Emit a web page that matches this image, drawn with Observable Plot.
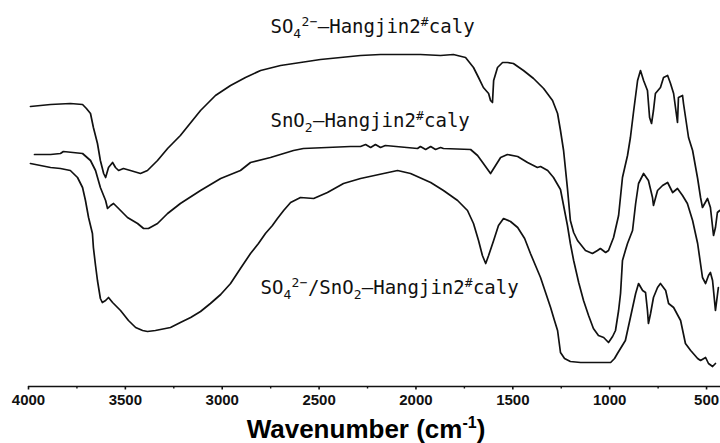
<!DOCTYPE html>
<html>
<head>
<meta charset="utf-8">
<script src="https://cdn.jsdelivr.net/npm/d3@7"></script>
<script src="https://cdn.jsdelivr.net/npm/@observablehq/plot@0.6"></script>
<style>
html, body { margin: 0; padding: 0; background: #fff; overflow: hidden; width: 720px; height: 443px; }
#chart { position: absolute; left: 0; top: 0; }
#title { position: absolute; left: 0; top: 416px; width: 732px; text-align: center;
  font-family: "Liberation Sans", Arial, sans-serif; font-weight: bold; font-size: 26px; line-height: 26px; color: #000; }
#title span { font-size: 16px; position: relative; top: -10px; }
</style>
</head>
<body>
<div id="chart"></div>
<div id="title">Wavenumber (cm<span>-1</span>)</div>
<script>
// Series 1: SO4(2-)-Hangjin2# caly  (wavenumber cm-1, transmittance a.u.)
const wnSO4 = [3990,3886,3784,3721,3701,3680,3665,3644,3629,3612,3602,3587,3566,3551,3535,3510,3474,3422,3386,3334,3282,3216,3112,3035,2957,2880,2802,2699,2596,2493,2389,2286,2183,1977,1873,1807,1744,1703,1677,1652,1625,1615,1605,1599,1579,1553,1528,1497,1445,1393,1341,1295,1269,1254,1238,1218,1203,1186,1166,1125,1089,1063,1048,1021,1006,980,954,934,908,893,876,856,841,825,805,794,784,774,764,738,722,701,686,670,650,645,624,619,593,572,546,531,521,495,480,464,454,444,432];
const tSO4  = [280,282,283,282,278,273,259,243,226,213,209,219,224,219,216,218,216,213,216,226,238,251,276,291,301,309,316,321,324,327,329,331,332,332,331,332,329,319,309,299,293,286,284,306,319,324,324,323,316,308,298,286,273,256,236,198,166,154,146,136,133,136,138,134,136,149,171,209,231,249,276,306,316,306,296,269,263,276,293,299,309,311,303,293,264,289,291,283,249,236,208,189,179,188,179,151,159,174,176];

// Series 2: SnO2-Hangjin2# caly
const wnSnO2 = [3969,3886,3835,3820,3721,3680,3654,3629,3602,3592,3576,3561,3535,3489,3437,3406,3381,3334,3282,3216,3112,3008,2906,2854,2751,2632,2581,2338,2286,2260,2234,2209,2183,2158,1992,1977,1950,1924,1899,1873,1858,1718,1682,1652,1615,1589,1563,1528,1475,1424,1373,1357,1320,1290,1254,1238,1218,1203,1186,1160,1135,1109,1084,1058,1031,1006,985,970,954,944,934,919,908,882,866,851,825,800,779,774,753,727,701,675,650,624,599,572,546,521,505,490,480,469,454,439];
const tSnO2  = [232,232,233,235,233,226,216,199,186,178,181,183,178,169,163,158,158,163,173,183,196,208,216,224,229,236,238,240,240,242,239,242,239,241,238,240,237,240,237,239,238,237,231,223,213,221,229,232,230,224,219,220,216,209,197,181,161,143,126,104,86,71,58,51,49,44,50,56,76,93,126,136,143,156,183,203,213,206,189,181,196,201,204,194,198,191,183,166,143,109,103,111,114,106,76,99];

// Series 3: SO4(2-)/SnO2-Hangjin2# caly
const wnMix = [3990,3938,3886,3835,3784,3747,3721,3706,3690,3670,3665,3654,3644,3629,3619,3602,3587,3566,3525,3484,3447,3411,3386,3345,3267,3216,3163,3112,3061,3008,2957,2906,2854,2813,2777,2741,2715,2683,2647,2596,2528,2457,2374,2286,2167,2095,2028,1924,1858,1785,1734,1703,1677,1657,1640,1625,1599,1574,1548,1512,1475,1439,1409,1383,1357,1331,1305,1285,1269,1254,1233,1203,1150,1073,995,975,960,919,893,866,851,830,815,805,800,789,774,753,738,711,696,670,634,609,582,546,531,505,490,469,454];
const tMix  = [223,221,219,218,216,209,199,186,169,153,139,121,106,88,84,86,89,84,76,66,59,56,55,56,59,64,69,75,83,92,103,118,133,143,153,161,168,176,184,189,188,194,203,208,213,216,213,204,196,186,176,163,146,131,123,131,146,161,168,165,159,148,133,121,109,94,79,66,56,34,28,25,24,24,24,28,33,46,69,93,103,96,94,76,63,73,89,99,103,96,83,79,66,43,36,28,26,29,23,20,23];

const seriesNames = ["SO4-Hangjin", "SnO2-Hangjin", "SO4/SnO2-Hangjin"];
const seriesWn = [wnSO4, wnSnO2, wnMix];
const seriesT = [tSO4, tSnO2, tMix];

// Curve labels
const labelText = ["SO₄²⁻—Hangjin2#caly", "SnO₂—Hangjin2#caly", "SO₄²⁻/SnO₂—Hangjin2#caly"];
const labelWn = [2751, 2751, 2802];
const labelT = [360, 266, 99];
// label pieces: [text, kind] kind 0 = normal, 1 = subscript, 2 = superscript
const labelParts = [
  [["SO",0],["4",1],["2−",2],["—Hangjin2",0],["#",2],["caly",0]],
  [["SnO",0],["2",1],["—Hangjin2",0],["#",2],["caly",0]],
  [["SO",0],["4",1],["2−",2],["/SnO",0],["2",1],["—Hangjin2",0],["#",2],["caly",0]]
];

// Axis ticks
const majorTicks = [4000, 3500, 3000, 2500, 2000, 1500, 1000, 500];
const minorTicks = [3750, 3250, 2750, 2250, 1750, 1250, 750];

const rows = seriesNames.flatMap((name, s) =>
  seriesWn[s].map((w, i) => ({name, w, t: seriesT[s][i]})));
const labels = labelText.map((text, i) => ({text, w: labelWn[i], t: labelT[i]}));

const plot = Plot.plot({
  width: 720,
  height: 410,
  marginLeft: 28,
  marginRight: 0,
  marginTop: 0,
  marginBottom: 24,
  style: {background: "#fff", color: "#111", overflow: "visible"},
  x: {domain: [4000, 428], axis: null},
  y: {domain: [0, 386], axis: null},
  marks: [
    Plot.line(rows, {x: "w", y: "t", z: "name", stroke: "#111", strokeWidth: 1.7, strokeLinejoin: "round"}),
    Plot.ruleY([0], {stroke: "#111", strokeWidth: 1.6}),
    Plot.axisX(minorTicks, {tickSize: 2.5, tickFormat: () => "", strokeWidth: 1.4, label: null}),
    Plot.axisX(majorTicks, {tickSize: 3.5, tickPadding: 4, strokeWidth: 1.6, tickFormat: d => String(d),
      fontSize: 15, fontWeight: "bold", fontFamily: "Liberation Sans, Arial, sans-serif", label: null}),
    Plot.text(labels, {x: "w", y: "t", text: "text", textAnchor: "start", fontSize: 19,
      fontFamily: "DejaVu Sans Mono, monospace", fill: "#111", letterSpacing: 1.1})
  ]
});
document.getElementById("chart").appendChild(plot);

// Render sub/superscripts in the curve labels
d3.select(plot).selectAll('g[aria-label="text"] text').each(function(_, i) {
  const parts = labelParts[i];
  if (!parts) return;
  const el = d3.select(this);
  el.text(null);
  let shift = 0;
  for (const [str, kind] of parts) {
    const target = kind === 1 ? 5 : kind === 2 ? -7 : 0;
    const ts = el.append("tspan").attr("dy", target - shift).text(str);
    if (kind) ts.attr("font-size", 13).attr("letter-spacing", 0.3);
    shift = target;
  }
});
</script>
</body>
</html>
